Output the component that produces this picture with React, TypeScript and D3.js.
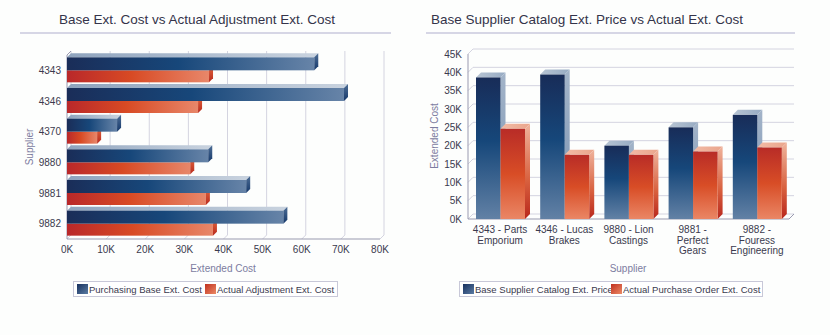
import React from "react";
import * as d3 from "d3";

// Left chart data
const leftCategories = ["4343", "4346", "4370", "9880", "9881", "9882"];
const leftBase = [63200, 70800, 12800, 36100, 45800, 55300];
const leftActual = [36300, 33500, 7700, 31500, 35500, 37300];
const leftTicks = [0, 10000, 20000, 30000, 40000, 50000, 60000, 70000, 80000];

// Right chart data
const rightCategories = [
  ["4343 - Parts", "Emporium"],
  ["4346 - Lucas", "Brakes"],
  ["9880 - Lion", "Castings"],
  ["9881 -", "Perfect", "Gears"],
  ["9882 -", "Fouress", "Engineering"],
];
const rightBase = [38600, 39400, 20000, 25000, 28400];
const rightActual = [24600, 17500, 17500, 18400, 19500];
const rightTicks = [0, 5000, 10000, 15000, 20000, 25000, 30000, 35000, 40000, 45000];

const FONT = "'Liberation Sans', Arial, sans-serif";
const TXT = "#3a3a4e";
const AXT = "#7c7ca0";
const GRID = "#d4d4e0";
const AXIS = "#9a9ab0";
const fmtK = (v: number) => `${v / 1000}K`;

function LeftChart() {
  const x = d3.scaleLinear().domain([0, 80000]).range([67, 380]);
  const y = d3.scaleBand().domain(leftCategories).range([55, 239]);
  const d = 4;
  const top = 55, bottom = 239;
  const poly = (pts: number[][]) => pts.map((p) => p.join(",")).join(" ");
  return (
    <g>
      <text x={197} y={24} textAnchor="middle" fontSize={13.5} fill="#34344a" fontFamily={FONT}>
        Base Ext. Cost vs Actual Adjustment Ext. Cost
      </text>
      <line x1={20} x2={391} y1={33} y2={33} stroke="#c9c9dc" strokeWidth={1.5} />
      {leftTicks.map((t) => (
        <g key={t}>
          <line x1={x(t) + d} x2={x(t) + d} y1={top - d} y2={bottom - d} stroke={GRID} />
          <line x1={x(t)} x2={x(t) + d} y1={bottom} y2={bottom - d} stroke={GRID} />
          <text x={x(t)} y={253} textAnchor="middle" fontSize={10} fill={TXT} fontFamily={FONT}>
            {fmtK(t)}
          </text>
        </g>
      ))}
      <line x1={x(0)} x2={x(0)} y1={top} y2={bottom} stroke={AXIS} />
      <line x1={x(0)} x2={x(0) + d} y1={top} y2={top - d} stroke={AXIS} />
      <line x1={x(0)} x2={x(80000)} y1={bottom} y2={bottom} stroke={AXIS} strokeWidth={1.2} />
      {leftCategories.map((c, i) => {
        const cy = (y(c) as number) + y.bandwidth() / 2;
        const x0 = x(0);
        const bx = x(leftBase[i]);
        const rx = x(leftActual[i]);
        const bTop = cy - 13, rBot = cy + 12;
        return (
          <g key={c}>
            {/* red (actual) */}
            <rect x={x0} y={cy} width={rx - x0} height={rBot - cy} fill="url(#hRed)" />
            <polygon points={poly([[rx, cy], [rx + d, cy - d], [rx + d, rBot - d], [rx, rBot]])} fill="url(#hRedEnd)" />
            {/* blue (base) */}
            <polygon points={poly([[x0, bTop], [x0 + d, bTop - d], [bx + d, bTop - d], [bx, bTop]])} fill="url(#hBlueTop)" />
            <rect x={x0} y={bTop} width={bx - x0} height={cy - bTop} fill="url(#hBlue)" />
            <polygon points={poly([[bx, bTop], [bx + d, bTop - d], [bx + d, cy - d], [bx, cy]])} fill="url(#hBlueEnd)" />
            <text x={61} y={cy + 3.5} textAnchor="end" fontSize={10} fill={TXT} fontFamily={FONT}>
              {c}
            </text>
          </g>
        );
      })}
      <text transform="translate(33,147) rotate(-90)" textAnchor="middle" fontSize={10} fill={AXT} fontFamily={FONT}>
        Supplier
      </text>
      <text x={223} y={272} textAnchor="middle" fontSize={10} fill={AXT} fontFamily={FONT}>
        Extended Cost
      </text>
      <rect x={73.5} y={281.5} width={264} height={15} fill="#fff" stroke="#c8c8d8" />
      <rect x={77} y={284} width={11} height={10} fill="url(#swBlue)" />
      <text x={89} y={293} fontSize={9.5} fill={TXT} fontFamily={FONT}>Purchasing Base Ext. Cost</text>
      <rect x={205} y={284} width={11} height={10} fill="url(#swRed)" />
      <text x={217} y={293} fontSize={9.5} fill={TXT} fontFamily={FONT}>Actual Adjustment Ext. Cost</text>
    </g>
  );
}

function RightChart() {
  const y = d3.scaleLinear().domain([0, 45000]).range([219, 54]);
  const x = d3.scaleBand<number>().domain(rightCategories.map((_, i) => i)).range([468, 789]);
  const d = 5;
  const left = 468, right = 789, base = 219;
  const poly = (pts: number[][]) => pts.map((p) => p.join(",")).join(" ");
  const bw = 24.5;
  return (
    <g>
      <text x={587} y={24} textAnchor="middle" fontSize={13.5} fill="#34344a" fontFamily={FONT}>
        Base Supplier Catalog Ext. Price vs Actual Ext. Cost
      </text>
      <line x1={426} x2={795} y1={33} y2={33} stroke="#c9c9dc" strokeWidth={1.5} />
      {rightTicks.map((t) => (
        <g key={t}>
          <line x1={left + d} x2={right + d} y1={y(t) - d} y2={y(t) - d} stroke={GRID} />
          <line x1={left} x2={left + d} y1={y(t)} y2={y(t) - d} stroke={GRID} />
          <text x={462} y={y(t) + 3.5} textAnchor="end" fontSize={10} fill={TXT} fontFamily={FONT}>
            {fmtK(t)}
          </text>
        </g>
      ))}
      <line x1={left} x2={left} y1={y(45000)} y2={base} stroke={AXIS} />
      <line x1={left} x2={right} y1={base} y2={base} stroke={AXIS} strokeWidth={1.2} />
      <line x1={right} x2={right + d} y1={base} y2={base - d} stroke={AXIS} />
      {rightCategories.map((lines, i) => {
        const b0 = (x(i) as number) + 8;
        const b1 = b0 + bw;
        const r1 = b1 + bw;
        const by = y(rightBase[i]);
        const ry = y(rightActual[i]);
        const cx = (x(i) as number) + x.bandwidth() / 2;
        return (
          <g key={i}>
            <polygon points={poly([[b0, by], [b0 + d, by - d], [b1 + d, by - d], [b1, by]])} fill="url(#vBlueTop)" />
            <polygon points={poly([[b1, by], [b1 + d, by - d], [b1 + d, base - d], [b1, base]])} fill="url(#vBlueSide)" />
            <rect x={b0} y={by} width={bw} height={base - by} fill="url(#vBlue)" />
            <polygon points={poly([[b1, ry], [b1 + d, ry - d], [r1 + d, ry - d], [r1, ry]])} fill="url(#vRedTop)" />
            <polygon points={poly([[r1, ry], [r1 + d, ry - d], [r1 + d, base - d], [r1, base]])} fill="url(#vRedSide)" />
            <rect x={b1} y={ry} width={bw} height={base - ry} fill="url(#vRed)" />
            {lines.map((l, j) => (
              <text key={j} x={cx} y={233 + j * 10.7} textAnchor="middle" fontSize={10} fill={TXT} fontFamily={FONT}>
                {l}
              </text>
            ))}
          </g>
        );
      })}
      <text transform="translate(438,136) rotate(-90)" textAnchor="middle" fontSize={10} fill={AXT} fontFamily={FONT}>
        Extended Cost
      </text>
      <text x={628} y={272} textAnchor="middle" fontSize={10} fill={AXT} fontFamily={FONT}>
        Supplier
      </text>
      <rect x={459.5} y={281.5} width={303} height={15} fill="#fff" stroke="#c8c8d8" />
      <rect x={463} y={284} width={11} height={10} fill="url(#swBlue)" />
      <text x={475} y={293} fontSize={9.5} fill={TXT} fontFamily={FONT}>Base Supplier Catalog Ext. Price</text>
      <rect x={611} y={284} width={11} height={10} fill="url(#swRed)" />
      <text x={623} y={293} fontSize={9.5} fill={TXT} fontFamily={FONT}>Actual Purchase Order Ext. Cost</text>
    </g>
  );
}

export default function App() {
  return (
    <svg width={830} height={335} style={{ position: "absolute", left: 0, top: 0, background: "#fdfefd" }}>
      <defs>
        <linearGradient id="hBlue" x1="0" x2="1" y1="0" y2="0">
          <stop offset="0" stopColor="#1a2d58" />
          <stop offset="0.45" stopColor="#17477a" />
          <stop offset="1" stopColor="#6784a8" />
        </linearGradient>
        <linearGradient id="hBlueTop" x1="0" x2="1" y1="0" y2="0">
          <stop offset="0" stopColor="#8ea3bd" />
          <stop offset="1" stopColor="#c9d3df" />
        </linearGradient>
        <linearGradient id="hBlueEnd" x1="0" x2="0" y1="0" y2="1">
          <stop offset="0" stopColor="#4d6d95" />
          <stop offset="1" stopColor="#15386a" />
        </linearGradient>
        <linearGradient id="hRed" x1="0" x2="1" y1="0" y2="0">
          <stop offset="0" stopColor="#b9282a" />
          <stop offset="0.45" stopColor="#d84a24" />
          <stop offset="1" stopColor="#e8876a" />
        </linearGradient>
        <linearGradient id="hRedEnd" x1="0" x2="0" y1="0" y2="1">
          <stop offset="0" stopColor="#e0643c" />
          <stop offset="1" stopColor="#b82a1e" />
        </linearGradient>
        <linearGradient id="vBlue" x1="0" x2="0" y1="0" y2="1">
          <stop offset="0" stopColor="#182c58" />
          <stop offset="0.45" stopColor="#16477a" />
          <stop offset="1" stopColor="#6281a5" />
        </linearGradient>
        <linearGradient id="vBlueTop" x1="0" x2="1" y1="0" y2="0">
          <stop offset="0" stopColor="#b7c4d3" />
          <stop offset="1" stopColor="#97abc3" />
        </linearGradient>
        <linearGradient id="vBlueSide" x1="0" x2="0" y1="0" y2="1">
          <stop offset="0" stopColor="#a3b4c9" />
          <stop offset="1" stopColor="#7891b0" />
        </linearGradient>
        <linearGradient id="vRed" x1="0" x2="0" y1="0" y2="1">
          <stop offset="0" stopColor="#b82c27" />
          <stop offset="0.5" stopColor="#d84d26" />
          <stop offset="1" stopColor="#ea8665" />
        </linearGradient>
        <linearGradient id="vRedTop" x1="0" x2="1" y1="0" y2="0">
          <stop offset="0" stopColor="#f2bba6" />
          <stop offset="1" stopColor="#eaa58c" />
        </linearGradient>
        <linearGradient id="vRedSide" x1="0" x2="0" y1="0" y2="1">
          <stop offset="0" stopColor="#efb39c" />
          <stop offset="0.6" stopColor="#d8603e" />
          <stop offset="1" stopColor="#b8261c" />
        </linearGradient>
        <linearGradient id="swBlue" x1="0" x2="1" y1="0" y2="1">
          <stop offset="0" stopColor="#17305e" />
          <stop offset="1" stopColor="#5b7ca3" />
        </linearGradient>
        <linearGradient id="swRed" x1="0" x2="1" y1="0" y2="1">
          <stop offset="0" stopColor="#c0301f" />
          <stop offset="1" stopColor="#ec8a66" />
        </linearGradient>
      </defs>
      <LeftChart />
      <RightChart />
    </svg>
  );
}
